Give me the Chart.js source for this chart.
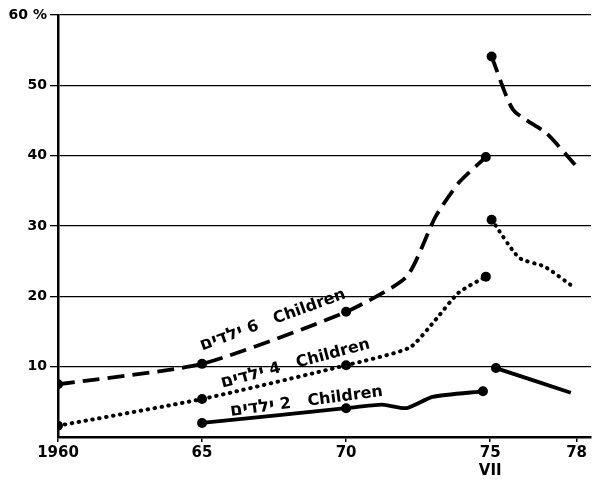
<!DOCTYPE html>
<html>
<head>
<meta charset="utf-8">
<script src="https://cdn.jsdelivr.net/npm/chart.js@4.4.1/dist/chart.umd.min.js"></script>
<style>
html, body { margin: 0; padding: 0; background: #fff; }
</style>
</head>
<body>
<canvas id="chart" width="596" height="482"></canvas>
<script>
// 6 ילדים - avant / après juillet 1975
const sixYears = [1960, 1965, 1970, 1972.1, 1973.1, 1973.9, 1974.85];
const sixValues = [7.5, 10.4, 17.8, 22.8, 31.3, 36.1, 39.8];
const sixYearsAfter = [1975.05, 1975.8, 1976.95, 1977.95];
const sixValuesAfter = [54.1, 46.5, 43.2, 38.7];

// 4 ילדים
const fourYears = [1960, 1965, 1970, 1972.2, 1973.05, 1973.9, 1974.85];
const fourValues = [1.6, 5.4, 10.2, 12.7, 16.4, 20.5, 22.8];
const fourYearsAfter = [1975.05, 1976, 1976.9, 1977.9];
const fourValuesAfter = [30.9, 25.5, 24.2, 21.3];

// 2 ילדים
const twoYears = [1965, 1970, 1971.25, 1972.1, 1973, 1974.75];
const twoValues = [2.0, 4.1, 4.6, 4.1, 5.7, 6.5];
const twoYearsAfter = [1975.2, 1977.8];
const twoValuesAfter = [9.8, 6.3];

const xTicks = [1960, 1965, 1970, 1975, 1978];
const xTickLabels = ['1960', '65', '70', ['75', 'VII'], '78'];
const yTicks = [10, 20, 30, 40, 50, 60];

const hebrewWord = 'ילדים';
const hebrewFont = 'bold 18px "DejaVu Sans", sans-serif';
const labelFont = 'bold 16px "DejaVu Sans", sans-serif';

// étiquettes le long des courbes (ancrage en coordonnées de données)
const lineLabels = [
    { n: '6', x: 1965.0, y: 12.3, angle: -20 },
    { n: '4', x: 1965.7, y: 7.0, angle: -15 },
    { n: '2', x: 1966.0, y: 3.0, angle: -7.5 }
];

const styles = {
    six: { width: 3.8, dash: [17, 8], cap: 'butt' },
    four: { width: 4, dash: [0.5, 6.5], cap: 'round' },
    two: { width: 3.8, dash: [], cap: 'butt' }
};

function makeSet(xs, ys, style, after) {
    return {
        data: xs.map((x, i) => ({ x: x, y: ys[i] })),
        borderColor: '#000',
        backgroundColor: '#000',
        borderWidth: style.width,
        borderDash: style.dash,
        borderCapStyle: style.cap,
        tension: 0.2,
        pointRadius: ctx => {
            const i = ctx.dataIndex;
            if (after) return i === 0 ? 5 : 0;
            return (xs[i] % 5 === 0 || i === xs.length - 1) ? 5 : 0;
        },
        pointBorderWidth: 0,
        pointHoverRadius: 0
    };
}

const labelPlugin = {
    id: 'lineLabels',
    afterDatasetsDraw(chart) {
        const ctx = chart.ctx;
        const xs = chart.scales.x;
        const ys = chart.scales.y;
        ctx.save();
        ctx.fillStyle = '#000';
        ctx.textBaseline = 'alphabetic';
        ctx.textAlign = 'left';
        lineLabels.forEach(l => {
            ctx.save();
            ctx.translate(xs.getPixelForValue(l.x), ys.getPixelForValue(l.y));
            ctx.rotate(l.angle * Math.PI / 180);
            ctx.font = hebrewFont;
            ctx.fillText(hebrewWord, 0, 0);
            const w = ctx.measureText(hebrewWord).width;
            ctx.font = labelFont;
            ctx.fillText(' ' + l.n + '   Children', w, 0);
            ctx.restore();
        });
        ctx.restore();
    }
};

const tickFont = { family: '"DejaVu Sans", sans-serif', weight: 'bold', size: 14 };

new Chart(document.getElementById('chart'), {
    type: 'line',
    data: {
        datasets: [
            makeSet(sixYears, sixValues, styles.six, false),
            makeSet(sixYearsAfter, sixValuesAfter, styles.six, true),
            makeSet(fourYears, fourValues, styles.four, false),
            makeSet(fourYearsAfter, fourValuesAfter, styles.four, true),
            makeSet(twoYears, twoValues, styles.two, false),
            makeSet(twoYearsAfter, twoValuesAfter, styles.two, true)
        ]
    },
    options: {
        responsive: false,
        animation: false,
        devicePixelRatio: 1,
        layout: { padding: { top: 15, right: 4, left: 0, bottom: 0 } },
        plugins: {
            legend: { display: false },
            tooltip: { enabled: false }
        },
        scales: {
            x: {
                type: 'linear',
                min: 1960,
                max: 1978.5,
                afterBuildTicks: s => { s.ticks = xTicks.map(v => ({ value: v })); },
                afterFit: s => { s.height = 45; },
                ticks: {
                    callback: v => xTickLabels[xTicks.indexOf(v)],
                    font: { ...tickFont, size: 15 },
                    color: '#000',
                    maxRotation: 0,
                    autoSkip: false,
                    padding: 2
                },
                grid: { drawOnChartArea: false, color: '#000', lineWidth: 1.5, tickLength: 5 },
                border: { color: '#000', width: 2.5 }
            },
            y: {
                min: 0,
                max: 60,
                afterBuildTicks: s => { s.ticks = yTicks.map(v => ({ value: v })); },
                afterFit: s => { s.width = 58; },
                ticks: {
                    callback: v => v === 60 ? '60 %' : String(v),
                    font: tickFont,
                    color: '#000',
                    padding: 3
                },
                grid: { color: '#000', lineWidth: 1.3, tickLength: 8 },
                border: { color: '#000', width: 2.5 }
            }
        }
    },
    plugins: [labelPlugin]
});
</script>
</body>
</html>
